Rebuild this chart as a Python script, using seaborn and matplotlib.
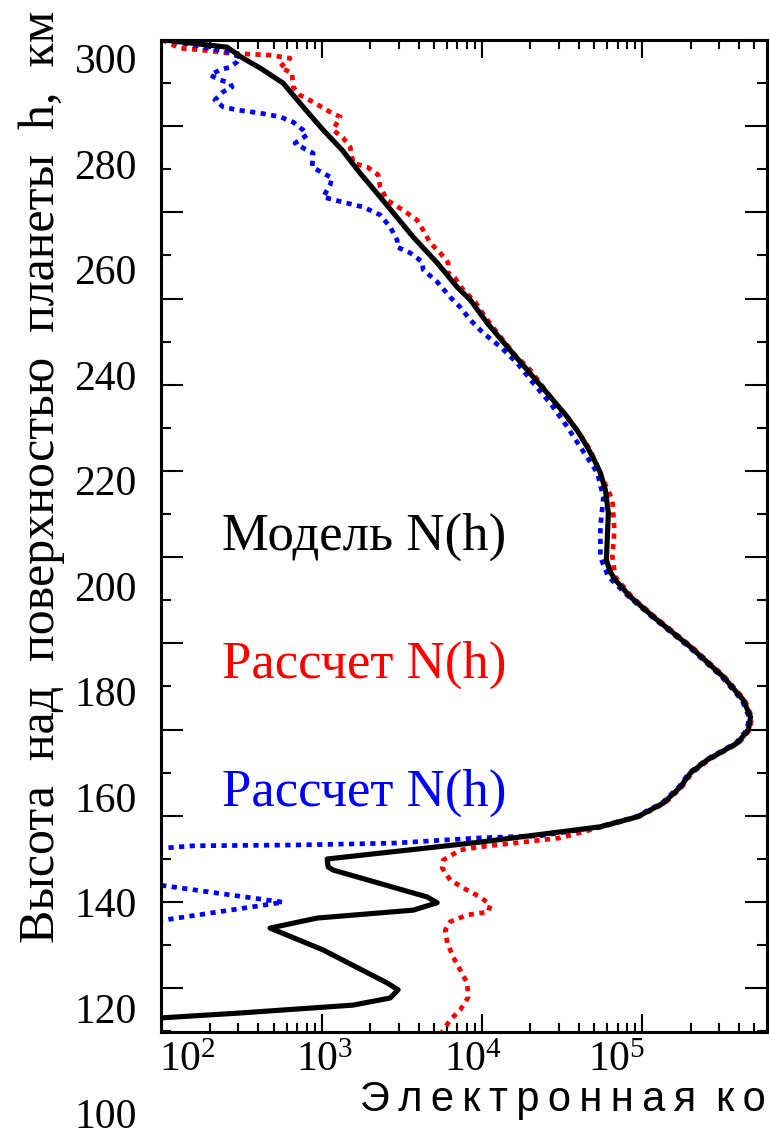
import numpy as np
import pandas as pd
import matplotlib
matplotlib.use("Agg")
import matplotlib.pyplot as plt
import matplotlib.transforms as mtransforms
from matplotlib.ticker import FixedLocator, LogLocator, NullFormatter
import seaborn as sns

# ---------------- data ----------------
model_h = [304.4, 303.0, 300.9, 299.05, 296.2, 291.7, 287.3, 283.5, 279.1, 274.6, 267.0, 262.1,
           257.5, 255.1, 250.7, 246.2, 241.8, 237.4, 232.9, 230.0, 227.2, 224.7, 222.3, 219.05,
           214.7, 210.1, 205.8, 203.5, 202.0, 198.8, 195.0, 189.3, 183.6, 179.2, 176.0, 173.6,
           171.1, 167.9, 165.4, 162.75, 159.7, 157.1, 155.2, 154.0, 152.3, 149.1, 147.6, 147.0,
           141.9, 140.8, 139.4, 137.9, 136.0, 131.85, 125.6, 124.3, 122.75, 121.4, 119.9, 118.8]
model_N = [100, 255, 321, 410, 570, 760, 1015, 1334, 1728, 2304, 3706, 5233,
           6980, 8414, 10740, 14330, 19100, 25470, 33980, 39810, 45290, 50120, 54640, 58750,
           61300, 60430, 59570, 63100, 67760, 84140, 117200, 199500, 320900, 427900, 473200, 459700,
           392300, 254700, 199500, 172800, 135300, 93100, 54640, 26610, 9716, 1075, 1090, 1172,
           4530, 5233, 3706, 931, 473, 1015, 2547, 2985, 2661, 1563, 307, 80]

red_h = [304.4, 302.8, 302.5, 301.9, 301.7, 301.5, 300.9, 299.2, 298.1, 295.45, 293.9, 292.6,
         290.7, 289.8, 287.3, 285.8, 284.1, 281.0, 280.3, 278.8, 276.5, 274.0, 272.1, 270.2,
         268.3, 265.9, 264.0, 262.1, 260.4, 259.2, 257.0, 254.7, 251.8, 248.1, 244.6, 241.8,
         238.0, 234.2, 230.4, 226.6, 220.9, 217.2, 211.5, 206.35, 202.6, 198.8, 195.0, 189.3,
         183.6, 179.2, 176.0, 173.6, 171.1, 167.9, 165.4, 162.75, 159.7, 157.1, 155.2, 153.1,
         151.4, 150.8, 148.9, 147.4, 145.1, 143.2, 141.9, 140.4, 139.05, 138.5, 137.2, 135.6,
         133.2, 130.5, 128.05, 125.6, 122.9, 120.5, 118.6, 116.3, 115.5]
red_N = [100, 129.6, 172.8, 255, 339.8, 473, 631, 546, 649, 659, 729, 879,
         1122, 1296, 1172, 1352, 1496, 1563, 1910, 2239, 2304, 2547, 3207, 3926,
         4277, 4732, 5464, 6131, 6043, 6776, 7603, 9036, 10440, 12960, 16070, 19950,
         24760, 30730, 39260, 47320, 57040, 64930, 66830, 64930, 67760, 85800, 119500, 203500,
         327000, 436000, 482000, 469000, 400000, 260000, 203500, 176000, 138000, 95000, 55700, 30730,
         9716, 7286, 5702, 5623, 6310, 8054, 9716, 11220, 10900, 8054, 6310, 5875,
         6043, 6590, 7286, 8054, 8175, 7286, 6310, 5623, 5400]

blue_h = [304.4, 303.4, 302.1, 301.1, 300.2, 299.2, 298.7, 297.7, 296.8, 296.2, 295.45, 294.5,
          293.0, 291.7, 291.1, 290.5, 289.8, 288.8, 287.3, 286.35, 284.8, 283.9, 282.9, 280.3,
          279.1, 278.2, 276.9, 274.6, 273.6, 272.7, 271.2, 268.9, 266.4, 265.1, 264.0, 262.3,
          260.8, 258.5, 255.6, 253.7, 251.3, 248.8, 246.2, 243.1, 239.3, 235.5, 231.0, 227.2,
          222.3, 217.7, 212.0, 206.35, 202.6, 198.8, 195.0, 189.3, 183.6, 179.2, 176.0, 173.6,
          171.1, 167.9, 165.4, 162.75, 159.7, 157.1, 155.2, 153.5, 153.1, 152.1, 151.75, 151.6,
          151.2, 150.6, 146.3, 140.9, 135.1]
blue_N = [100, 156, 255, 307, 294, 266, 230, 200, 230, 266, 274, 240,
          214, 240, 294, 410, 546, 659, 760, 805, 678, 760, 879, 866,
          1015, 1155, 1122, 1015, 1352, 1803, 2304, 2661, 2944, 2944, 3548, 4217,
          4277, 5233, 6310, 7286, 8414, 10150, 12960, 16540, 20840, 26610, 33980, 40970,
          52330, 57040, 54640, 54640, 61300, 82500, 115000, 195500, 314000, 419000, 464000, 450000,
          384000, 250000, 195500, 169000, 132500, 91000, 53500, 23040, 9716, 2780, 659, 156,
          107, 30, 30, 570, 30]

x_tick_values = [1e2, 1e3, 1e4, 1e5]
x_tick_labels = [r"$\mathregular{10^{2}}$", r"$\mathregular{10^{3}}$",
                 r"$\mathregular{10^{4}}$", r"$\mathregular{10^{5}}$"]
y_label_values = [300, 280, 260, 240, 220, 200, 180, 160, 140, 120, 100]

series_names = ["Модель N(h)", "Рассчет N(h)", "Рассчет N(h)"]
series_colors = ["black", "#ff0000", "#0000ff"]

# ---------------- style ----------------
sns.set_style("ticks")
plt.rcParams["font.family"] = ["Liberation Serif", "DejaVu Sans"]
plt.rcParams["mathtext.fontset"] = "custom"
plt.rcParams["mathtext.rm"] = "Liberation Serif"
for k in ["text.color", "axes.edgecolor", "xtick.color", "ytick.color", "axes.labelcolor"]:
    plt.rcParams[k] = "black"

fig = plt.figure(figsize=(7.7, 11.38), dpi=100)
ax = fig.add_axes([161 / 770, 1 - 1032 / 1138, 606 / 770, 992 / 1138])

df_red = pd.DataFrame({"N": red_N, "h": red_h})
df_blue = pd.DataFrame({"N": blue_N, "h": blue_h})
df_model = pd.DataFrame({"N": model_N, "h": model_h})

dots = (0, (1.1, 1.15))
sns.lineplot(data=df_red, x="N", y="h", sort=False, estimator=None, ax=ax,
             color=series_colors[1], linewidth=3.4, linestyle=dots)
sns.lineplot(data=df_blue, x="N", y="h", sort=False, estimator=None, ax=ax,
             color=series_colors[2], linewidth=3.4, linestyle=dots)
sns.lineplot(data=df_model, x="N", y="h", sort=False, estimator=None, ax=ax,
             color=series_colors[0], linewidth=3.7)

ax.set_xscale("log")
ax.set_xlim(98.6, 6.0e5)
ax.set_ylim(116.3, 304.36)
ax.set_xlabel("")
ax.set_ylabel("")

# x ticks
ax.xaxis.set_major_locator(FixedLocator(x_tick_values))
ax.xaxis.set_minor_locator(LogLocator(base=10, subs=np.arange(2, 10)))
ax.xaxis.set_major_formatter(NullFormatter())
ax.xaxis.set_minor_formatter(NullFormatter())
ax.tick_params(axis="x", which="major", direction="in", length=13, width=1.5,
               top=True, bottom=True)
ax.tick_params(axis="x", which="minor", direction="in", length=6.5, width=1.5,
               top=True, bottom=True)

# y ticks (regular spacing as in reference frame)
ytop, ybot = 304.36, 116.3
step = 86.2 / 5.275
ax.yaxis.set_major_locator(FixedLocator(np.arange(ytop, ybot - 0.1, -step)))
ax.yaxis.set_minor_locator(FixedLocator(np.arange(ytop - step / 2, ybot - 0.5, -step)))
ax.yaxis.set_major_formatter(NullFormatter())
ax.tick_params(axis="y", which="major", direction="in", length=15.5, width=1.5,
               left=True, right=True)
ax.tick_params(axis="y", which="minor", direction="in", length=7.2, width=1.5,
               left=True, right=True)

for sp in ax.spines.values():
    sp.set_linewidth(2.2)
    sp.set_color("black")

# x tick labels
x_offsets_pt = [18, 2, -6.5, -18.7]
for val, lab, dx in zip(x_tick_values, x_tick_labels, x_offsets_pt):
    tr = mtransforms.blended_transform_factory(ax.transData, ax.transAxes) + \
        mtransforms.ScaledTranslation(dx / 72, -7 / 72, fig.dpi_scale_trans)
    ax.text(val, 0, lab, transform=tr, ha="center", va="top", fontsize=30,
            clip_on=False)

# y labels
ytr = mtransforms.blended_transform_factory(ax.transAxes, ax.transData)
for v in y_label_values:
    ax.text(-24 / 606, v, str(v), transform=ytr, ha="right", va="center",
            fontsize=30, clip_on=False)

# in-plot series labels
label_y = [0.499, 0.370, 0.241]
for name, col, yy in zip(series_names, series_colors, label_y):
    ax.text(0.1007, yy, name, transform=ax.transAxes, color=col, fontsize=38,
            ha="left", va="center")

# axis titles
fig.text(42 / 770, 1 - 477 / 1138, "Высота  над  поверхностью  планеты  h,  км",
         rotation=90, ha="center", va="center", fontsize=36)
xlab = " \u2009".join("\u2009".join(w) for w in ["Электронная", "концентрация,", "см⁻³"])
fig.text(360 / 770, 1 - 1111 / 1138, xlab, ha="left", va="baseline",
         fontsize=30, family=["Liberation Sans", "DejaVu Sans"])

fig.savefig("out.png", dpi=100)
